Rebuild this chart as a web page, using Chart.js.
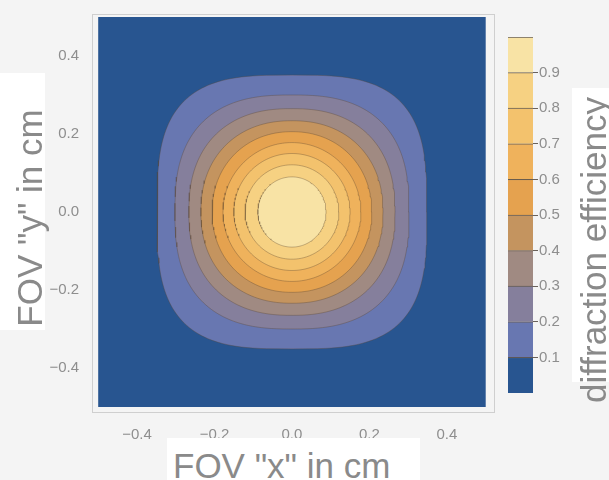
<!DOCTYPE html>
<html lang="en">
<head>
  <meta charset="UTF-8" />
  <title>Diffraction efficiency over the FOV</title>
  <script src="https://cdn.jsdelivr.net/npm/chart.js"></script>
  <style>
    body { margin: 0; background: #f4f4f4; }
    #wrap { position: relative; width: 609px; height: 480px; overflow: hidden; }
    canvas { position: absolute; top: 0; }
    .box { position: absolute; background: #fff; }
    .title {
      position: absolute;
      font: 35px "Liberation Sans", Arial, sans-serif;
      line-height: 40px;
      color: #8a8a8a;
      white-space: nowrap;
    }
    .rot { transform: translate(-50%, -50%) rotate(-90deg); }
  </style>
</head>
<body>
  <div id="wrap">
    <canvas id="plot" width="500" height="480" style="left:0;width:500px;height:480px"></canvas>
    <canvas id="bar" width="80" height="480" style="left:495px;width:80px;height:480px"></canvas>
    <div class="box" style="left:0;top:73px;width:45px;height:257px"></div>
    <div class="box" style="left:167px;top:438px;width:253px;height:42px"></div>
    <div class="box" style="left:572px;top:88px;width:37px;height:294px"></div>
    <div class="title rot" style="left:30px;top:218px">FOV "y" in cm</div>
    <div class="title" style="left:173px;top:446px">FOV "x" in cm</div>
    <div class="title rot" style="left:594px;top:250px">diffraction efficiency</div>
  </div>

  <script>
    // contour levels and the size of each closed contour
    const levels = [0.1, 0.2, 0.3, 0.4, 0.5, 0.6, 0.7, 0.8, 0.9];
    const halfWidthX = [0.348, 0.302, 0.266, 0.235, 0.206, 0.178, 0.150, 0.121, 0.088];
    const halfHeightY = [0.351, 0.300, 0.265, 0.234, 0.206, 0.178, 0.150, 0.121, 0.090];
    const squareness = [3.2, 2.6, 2.35, 2.2, 2.1, 2.0, 2.0, 2.0, 2.0];

    // one colour per band: 0-0.1, 0.1-0.2, ... 0.9-1.0
    const bandEdges = [0, 0.1, 0.2, 0.3, 0.4, 0.5, 0.6, 0.7, 0.8, 0.9, 1.0];
    const bandColors = ['#285590', '#6877b1', '#857f9c', '#a08a82', '#c4945f',
      '#e5a24f', '#efb25c', '#f3c26d', '#f6d182', '#f8e3a5'];

    const plotDomain = [-0.5, 0.5];
    const xTicks = [-0.4, -0.2, 0, 0.2, 0.4];
    const yTicks = [-0.4, -0.2, 0, 0.2, 0.4];
    const barTicks = [0.1, 0.2, 0.3, 0.4, 0.5, 0.6, 0.7, 0.8, 0.9];

    const tickFont = { family: '"Liberation Sans", Arial, sans-serif', size: 15 };
    const tickColor = '#8e8e8e';
    const lineColor = 'rgba(90,70,50,0.35)';

    const fmt = v => (v < 0 ? '\u2212' : '') + Math.abs(v).toFixed(1);

    function contourPoints(a, b, n) {
      const pts = [];
      const steps = 180;
      for (let k = 0; k <= steps; k++) {
        const t = k / steps * 2 * Math.PI;
        const c = Math.cos(t), s = Math.sin(t);
        pts.push({
          x: a * Math.sign(c) * Math.pow(Math.abs(c), 2 / n),
          y: b * Math.sign(s) * Math.pow(Math.abs(s), 2 / n)
        });
      }
      return pts;
    }

    const [d0, d1] = plotDomain;
    const datasets = [{
      data: [{ x: d0, y: d0 }, { x: d1, y: d0 }, { x: d1, y: d1 }, { x: d0, y: d1 }, { x: d0, y: d0 }],
      backgroundColor: bandColors[0],
      borderWidth: 0,
      fill: 'shape',
      order: 20
    }];
    levels.forEach((lv, i) => {
      datasets.push({
        label: String(lv),
        data: contourPoints(halfWidthX[i], halfHeightY[i], squareness[i]),
        backgroundColor: bandColors[i + 1],
        borderColor: lineColor,
        borderWidth: 1,
        fill: 'shape',
        order: 10 - i
      });
    });

    const framePlugin = {
      id: 'frame',
      afterDraw(chart) {
        const { ctx, chartArea: a } = chart;
        ctx.save();
        ctx.strokeStyle = '#cfcfcf';
        ctx.lineWidth = 1;
        ctx.strokeRect(a.left + 0.5, a.top + 0.5, a.right - a.left - 1, a.bottom - a.top - 1);
        ctx.restore();
      }
    };

    new Chart(document.getElementById('plot'), {
      type: 'scatter',
      data: { datasets },
      options: {
        responsive: false,
        maintainAspectRatio: false,
        animation: false,
        devicePixelRatio: 1,
        showLine: true,
        elements: { point: { radius: 0 }, line: { tension: 0 } },
        layout: { padding: { left: 0, top: 12, right: 5, bottom: 0 } },
        plugins: { legend: { display: false }, tooltip: { enabled: false } },
        scales: {
          x: {
            min: -0.516, max: 0.524,
            afterBuildTicks: s => { s.ticks = xTicks.map(v => ({ value: v })); },
            afterFit: s => { s.height = 67; },
            ticks: { font: tickFont, color: tickColor, padding: 5, callback: fmt },
            grid: { display: false },
            border: { display: false }
          },
          y: {
            min: -0.5154, max: 0.5077,
            afterBuildTicks: s => { s.ticks = yTicks.map(v => ({ value: v })); },
            afterFit: s => { s.width = 92; },
            ticks: { font: tickFont, color: tickColor, padding: 5, callback: fmt },
            grid: { display: false },
            border: { display: false }
          }
        }
      },
      plugins: [framePlugin]
    });

    // colour bar legend
    new Chart(document.getElementById('bar'), {
      type: 'bar',
      data: {
        labels: [''],
        datasets: bandColors.map((c, i) => ({
          data: [[bandEdges[i], bandEdges[i + 1]]],
          backgroundColor: c,
          borderColor: 'rgba(60,50,40,0.75)',
          borderWidth: { top: 1, right: 0, bottom: 0, left: 0 },
          borderSkipped: false,
          grouped: false,
          barPercentage: 1,
          categoryPercentage: 1
        }))
      },
      options: {
        responsive: false,
        maintainAspectRatio: false,
        animation: false,
        devicePixelRatio: 1,
        layout: { padding: { left: 13, top: 37, right: 0, bottom: 87 } },
        plugins: { legend: { display: false }, tooltip: { enabled: false } },
        scales: {
          x: { display: false },
          y: {
            position: 'right',
            min: 0, max: 1,
            afterBuildTicks: s => { s.ticks = barTicks.map(v => ({ value: v })); },
            afterFit: s => { s.width = 42; },
            ticks: { font: tickFont, color: tickColor, padding: 1, callback: v => v.toFixed(1) },
            grid: { drawOnChartArea: false, drawTicks: true, tickLength: 5, color: 'rgba(60,50,40,0.75)' },
            border: { display: false }
          }
        }
      }
    });
  </script>
</body>
</html>
